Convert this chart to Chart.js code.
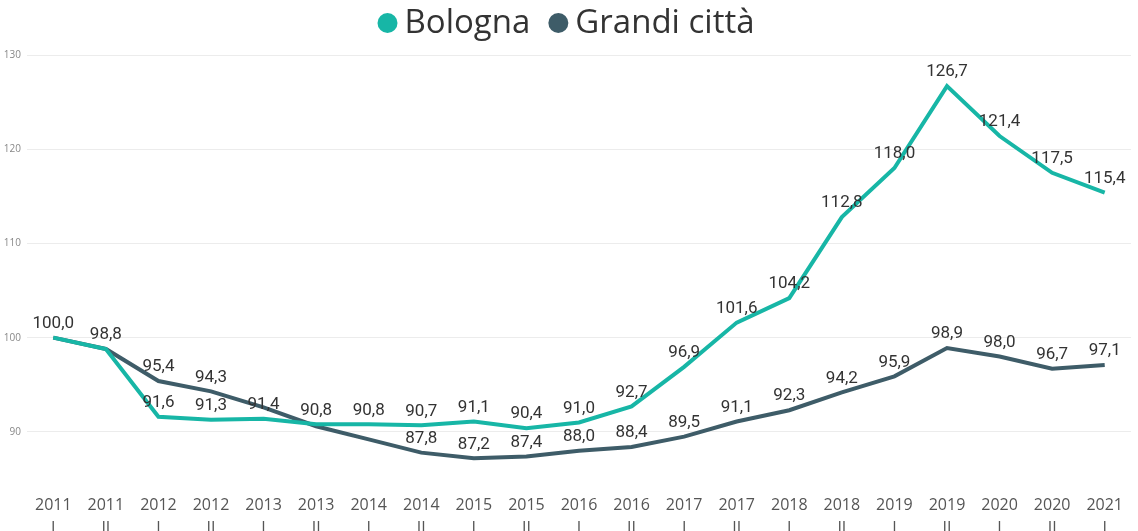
<!DOCTYPE html>
<html lang="it">
<head>
  <meta charset="UTF-8" />
  <title>Bologna vs Grandi città</title>
  <script src="https://cdn.jsdelivr.net/npm/chart.js"></script>
  <style>
    * { margin: 0; padding: 0; box-sizing: border-box; }
    body { background: #fff; width: 1138px; height: 531px; overflow: hidden; }
    .wrap { position: relative; width: 1138px; height: 531px; }
  </style>
</head>
<body>
  <div class="wrap"><canvas id="chart"></canvas></div>

  <script>
    const years = ['2011', '2011', '2012', '2012', '2013', '2013', '2014', '2014', '2015', '2015', '2016',
      '2016', '2017', '2017', '2018', '2018', '2019', '2019', '2020', '2020', '2021'];
    const halves = ['I', 'II', 'I', 'II', 'I', 'II', 'I', 'II', 'I', 'II', 'I',
      'II', 'I', 'II', 'I', 'II', 'I', 'II', 'I', 'II', 'I'];
    const bologna = [100.0, 98.8, 91.6, 91.3, 91.4, 90.8, 90.8, 90.7, 91.1, 90.4, 91.0,
      92.7, 96.9, 101.6, 104.2, 112.8, 118.0, 126.7, 121.4, 117.5, 115.4];
    const grandiCitta = [100.0, 98.8, 95.4, 94.3, 92.6, 90.6, 89.2, 87.8, 87.2, 87.4, 88.0,
      88.4, 89.5, 91.1, 92.3, 94.2, 95.9, 98.9, 98.0, 96.7, 97.1];
    const yTicks = [90, 100, 110, 120, 130];

    const labels = years.map((y, i) => [y, halves[i]]);

    // legend drawn by hand so the dot/text gaps match the original
    const topLegend = {
      id: 'topLegend',
      afterDraw(chart) {
        const ctx = chart.ctx;
        const r = 10, dotGap = 7, itemGap = 18, cy = 23;
        ctx.save();
        ctx.font = "33px 'Open Sans'";
        ctx.textBaseline = 'middle';
        const items = chart.data.datasets.map(ds => ({
          text: ds.label, color: ds.borderColor, w: ctx.measureText(ds.label).width
        }));
        const total = items.reduce((s, it) => s + 2 * r + dotGap + it.w, 0) + itemGap * (items.length - 1);
        let x = (chart.width - total) / 2 - 3;
        items.forEach(it => {
          ctx.fillStyle = it.color;
          ctx.beginPath();
          ctx.arc(x + r, cy, r, 0, Math.PI * 2);
          ctx.fill();
          x += 2 * r + dotGap;
          ctx.fillStyle = '#333';
          ctx.fillText(it.text, x, cy + 1);
          x += it.w + itemGap;
        });
        ctx.restore();
      }
    };

    // data labels, first dataset wins when two labels collide
    const valueLabels = {
      id: 'valueLabels',
      afterDatasetsDraw(chart) {
        const ctx = chart.ctx;
        const placed = [];
        ctx.save();
        ctx.font = '17px Roboto';
        ctx.fillStyle = '#333';
        ctx.textAlign = 'center';
        ctx.textBaseline = 'middle';
        chart.data.datasets.forEach((ds, di) => {
          chart.getDatasetMeta(di).data.forEach((pt, i) => {
            const txt = ds.data[i].toFixed(1).replace('.', ',');
            const w = ctx.measureText(txt).width;
            const cx = pt.x, cy = pt.y - 14;
            const box = { l: cx - w / 2, r: cx + w / 2, t: cy - 9, b: cy + 9 };
            const hit = placed.some(p => box.l < p.r && box.r > p.l && box.t < p.b && box.b > p.t);
            if (hit) return;
            placed.push(box);
            ctx.fillText(txt, cx, cy);
          });
        });
        ctx.restore();
      }
    };

    new Chart(document.getElementById('chart'), {
      type: 'line',
      data: {
        labels: labels,
        datasets: [
          {
            label: 'Bologna',
            data: bologna,
            borderColor: '#17b6a6',
            backgroundColor: '#17b6a6',
            borderWidth: 4,
            pointRadius: 0,
            tension: 0
          },
          {
            label: 'Grandi città',
            data: grandiCitta,
            borderColor: '#3e5c68',
            backgroundColor: '#3e5c68',
            borderWidth: 4,
            pointRadius: 0,
            tension: 0
          }
        ]
      },
      options: {
        responsive: true,
        maintainAspectRatio: false,
        animation: false,
        layout: { padding: { left: 0, right: 0, top: 55, bottom: 0 } },
        plugins: {
          legend: { display: false },
          tooltip: { enabled: false }
        },
        scales: {
          x: {
            offset: true,
            grid: { display: false, drawTicks: false },
            border: { display: false },
            afterFit(axis) {
              axis.height = 52;
            },
            ticks: {
              color: '#555',
              padding: 15,
              maxRotation: 0,
              autoSkip: false,
              font: { family: "'Open Sans', sans-serif", size: 16, lineHeight: 1.45 }
            }
          },
          y: {
            min: 85,
            max: 130,
            afterBuildTicks(axis) {
              axis.ticks = yTicks.map(v => ({ value: v }));
            },
            afterFit(axis) {
              axis.width = 27;
            },
            grid: { color: '#ececec', drawTicks: false },
            border: { display: false },
            ticks: {
              color: '#888',
              padding: 6,
              font: { family: "'Open Sans', sans-serif", size: 10 }
            }
          }
        }
      },
      plugins: [valueLabels, topLegend]
    });
  </script>
</body>
</html>
